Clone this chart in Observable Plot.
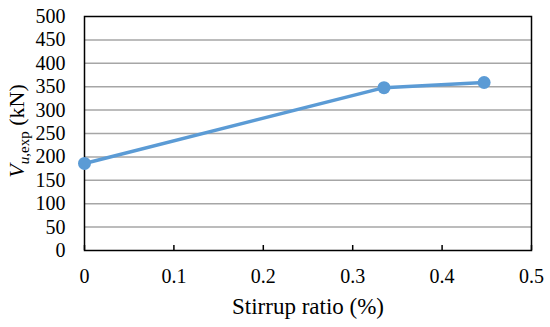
<!DOCTYPE html>
<html><head><meta charset="utf-8">
<script src="https://cdn.jsdelivr.net/npm/d3@7"></script>
<script src="https://cdn.jsdelivr.net/npm/@observablehq/plot@0.6"></script>
<style>
body{margin:0;background:#fff;}
svg{display:block;}
#chart svg, #chart svg text, #chart svg tspan { font-family: "Liberation Serif", "Times New Roman", "DejaVu Serif", serif !important; }
#chart g[aria-label="x-axis tick label"] text, #chart g[aria-label="y-axis tick label"] text { font-size: 20px !important; }
#chart g[aria-label="x-axis label"] text { font-size: 23px !important; }
</style>
</head><body><div id="chart"></div>
<script>
const stirrupRatio = [0, 0.335, 0.447];
const shearStrength = [186, 348, 359];
const xTicks = [0, 0.1, 0.2, 0.3, 0.4, 0.5];
const yTicks = [0, 50, 100, 150, 200, 250, 300, 350, 400, 450, 500];

const data = stirrupRatio.map((x, i) => ({x, y: shearStrength[i]}));
const blue = "#5b9bd5";
const serif = "'Liberation Serif', 'Times New Roman', serif";

const chart = Plot.plot({
  width: 550, height: 327,
  marginLeft: 84, marginRight: 19, marginTop: 16, marginBottom: 77,
  style: {fontFamily: serif, fontSize: "20px", color: "#000", background: "#fff"},
  x: {domain: [0, 0.5]},
  y: {domain: [0, 500]},
  marks: [
    Plot.ruleY(yTicks.slice(1, -1), {stroke: "#a6a6a6", strokeWidth: 1.5}),
    Plot.axisY({ticks: yTicks, tickSize: 0, tickPadding: 19, label: null, fontSize: 20}),
    Plot.axisX({ticks: xTicks, tickSize: 0, tickPadding: 18, tickFormat: d => String(d), label: null, fontSize: 20}),
    Plot.axisX({ticks: [], tickSize: 0, label: "Stirrup ratio (%)", labelAnchor: "center", labelArrow: "none", labelOffset: 63, fontSize: 23}),
    Plot.axisX({ticks: xTicks, tickSize: -5, text: null, label: null, stroke: "#000", strokeWidth: 1.5}),
    Plot.frame({stroke: "#000", strokeWidth: 1.5}),
    Plot.line(data, {x: "x", y: "y", stroke: blue, strokeWidth: 3.5}),
    Plot.dot(data, {x: "x", y: "y", fill: blue, r: 6.5})
  ]
});

const svg = d3.select(chart);
svg.attr("font-family", serif);
const t = svg.append("text")
  .attr("transform", "translate(24,131) rotate(-90)")
  .attr("text-anchor", "middle")
  .attr("fill", "#000")
  .attr("font-family", serif)
  .attr("font-size", 22);
t.append("tspan").attr("font-style", "italic").text("V");
t.append("tspan").attr("font-style", "italic").attr("font-size", 15).attr("dy", 5).text("u");
t.append("tspan").attr("font-size", 15).text(",exp");
t.append("tspan").attr("dy", -5).text(" (kN)");

document.getElementById("chart").append(chart);
</script>
</body></html>
